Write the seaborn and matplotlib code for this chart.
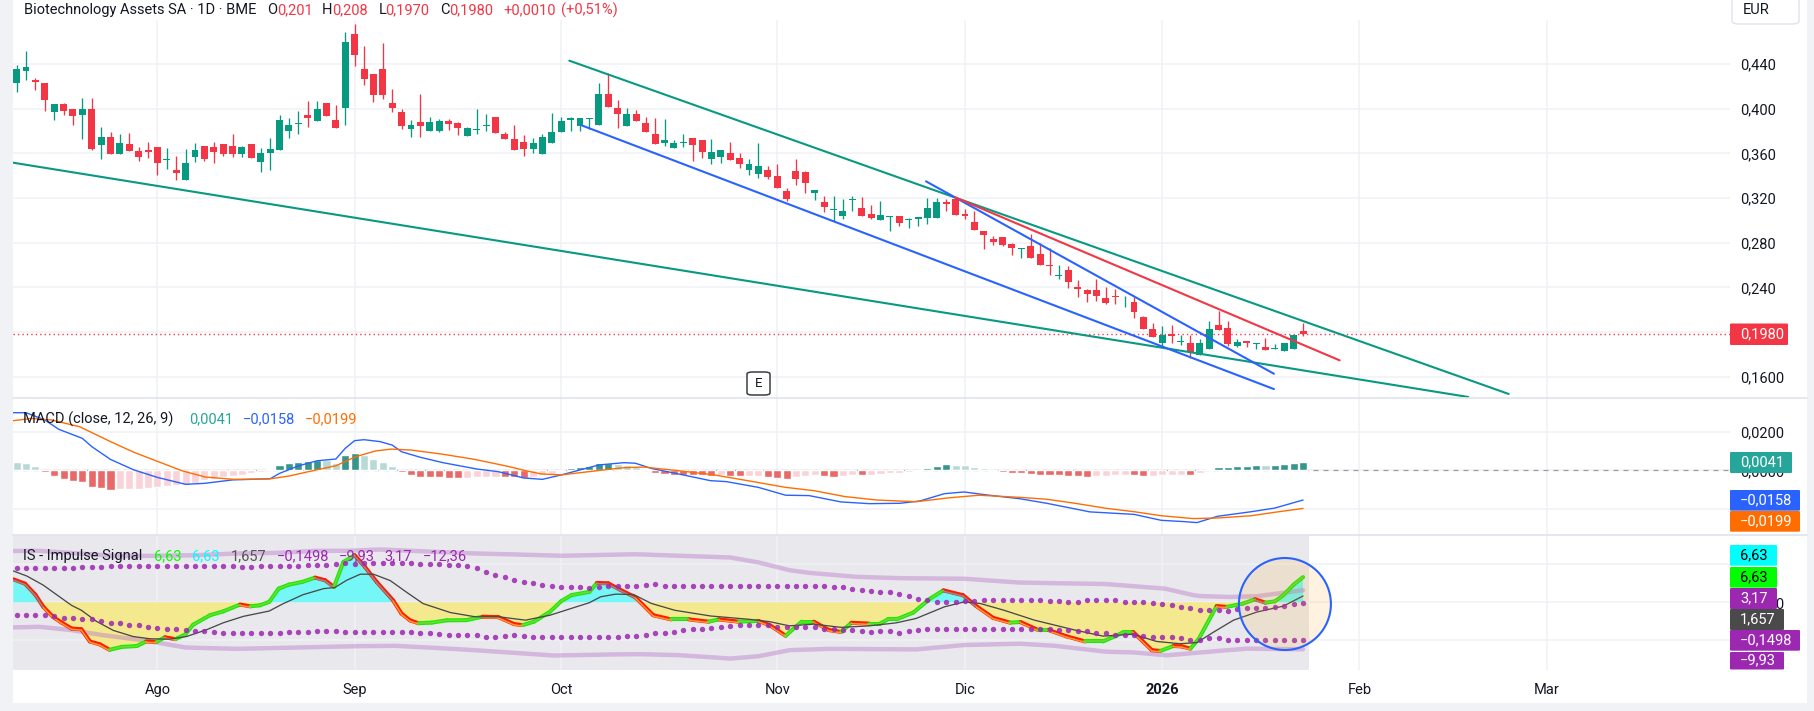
import numpy as np
import matplotlib
matplotlib.use("Agg")
import matplotlib.pyplot as plt
import seaborn as sns
from matplotlib.lines import Line2D
from matplotlib.patches import FancyBboxPatch, Ellipse, Rectangle

# ---- price candles
opens = [.4227,.4335,.426,.4233,.3975,.4044,.3999,.3948,.3999,.3678,
         .3747,.3597,.3684,.3621,.363,.3657,.3537,.345,.3363,.357,
         .3666,.3657,.3684,.3666,.3597,.3684,.3525,.3606,.3633,.3804,
         .3864,.3945,.3894,.4053,.39,.4002,.4665,.4359,.4314,.4359,
         .4053,.3972,.3822,.3882,.3804,.3804,.3891,.3873,.3759,.3813,
         .3849,.3927,.3774,.3729,.3702,.3642,.3597,.3696,.3795,.3903,
         .3849,.3912,.3858,.4134,.4008,.3849,.3954,.3873,.3774,.3696,
         .3651,.3696,.3738,.372,.3552,.357,.3603,.3558,.3453,.3417,
         .345,.3396,.3261,.3441,.3432,.3246,.3162,.3093,.3039,.3186,
         .3108,.3054,.3003,.303,.3036,.3003,.3012,.3021,.3021,.3162,
         .3189,.3054,.2982,.291,.2838,.2856,.2785,.2743,.2767,.2704,
         .2605,.2506,.256,.2407,.238,.238,.2308,.2326,.2257,.2272,
         .2137,.2029,.1906,.1984,.1915,.1903,.1798,.1852,.2065,.2038,
         .1879,.1921,.1897,.1867,.1852,.1834,.1852,.201]
closes = [.4359,.4377,.4236,.4074,.4044,.3984,.3939,.3999,.3642,.3747,
          .3597,.3693,.3624,.357,.3615,.3516,.3549,.3426,.3513,.363,
          .3552,.3615,.3597,.3597,.3657,.3561,.3603,.3639,.39,.3855,
          .3873,.3921,.3999,.3939,.3831,.4593,.4479,.4263,.4119,.4119,
          .4002,.3849,.3855,.3849,.3882,.3891,.3867,.3831,.3828,.3819,
          .3855,.3786,.3732,.3633,.3642,.3693,.3747,.3792,.3891,.3915,
          .3918,.3918,.4134,.4011,.3957,.3954,.3894,.3795,.3687,.372,
          .3693,.3702,.3678,.3615,.3612,.363,.3543,.3507,.3504,.3486,
          .339,.3291,.3192,.3372,.3336,.327,.312,.3099,.3081,.3192,
          .3039,.3021,.3045,.3036,.2976,.3009,.3027,.3108,.3162,.3147,
          .3048,.3039,.2913,.2868,.2805,.2778,.2752,.2755,.2662,.2599,
          .259,.2515,.2446,.2383,.2338,.232,.2257,.2311,.2263,.2185,
          .2032,.196,.1975,.1969,.1921,.1822,.1903,.2029,.2023,.1897,
          .1912,.1906,.1903,.1843,.1858,.1903,.1975,.198]
highs = [.4395,.4521,.4278,.4233,.4044,.4053,.3999,.4098,.4098,.3837,
         .3792,.3774,.3783,.3657,.3702,.3657,.3648,.3576,.3639,.3693,
         .3666,.3702,.3684,.3774,.3666,.3684,.3648,.3738,.3945,.3918,
         .3981,.4071,.4071,.4053,.4035,.4683,.4755,.4557,.4314,.4584,
         .4179,.3999,.39,.4134,.3927,.3909,.3909,.3882,.3837,.3999,
         .3954,.3927,.3792,.3855,.3765,.3738,.3774,.3963,.3927,.3927,
         .3918,.3918,.4233,.4323,.408,.4008,.399,.3927,.3918,.3909,
         .372,.3774,.3738,.372,.3729,.363,.3702,.3603,.3549,.3693,
         .3486,.3504,.3288,.3549,.3441,.327,.3216,.3216,.3189,.3216,
         .3207,.3135,.3171,.3036,.3036,.3018,.3027,.3198,.3198,.3189,
         .3207,.3099,.3081,.291,.2865,.2856,.2794,.2755,.2875,.2794,
         .2749,.2605,.2596,.247,.2389,.2479,.2407,.2389,.2326,.2317,
         .2146,.2083,.2056,.2065,.1975,.1975,.1939,.2101,.2191,.2101,
         .1939,.1921,.1903,.1948,.1894,.1903,.1975,.208]
lows = [.4146,.4254,.4164,.3984,.3903,.3948,.3858,.3732,.3633,.3552,
        .3597,.3597,.3624,.3534,.3561,.3408,.3462,.3363,.3363,.3525,
        .3534,.3516,.3579,.357,.357,.3561,.3435,.3453,.3633,.3741,
        .3777,.384,.3894,.3939,.3831,.3858,.438,.4209,.4056,.4083,
        .3975,.3822,.375,.375,.3804,.3795,.3813,.3768,.3759,.3777,
        .3804,.3786,.3732,.3633,.3579,.3606,.3597,.3696,.3795,.3804,
        .3804,.3822,.3858,.4011,.3831,.3849,.3894,.3795,.3687,.3669,
        .3651,.366,.3534,.3561,.3507,.3516,.3543,.3471,.3408,.3381,
        .3372,.3291,.3174,.3318,.3246,.3183,.3075,.2997,.3012,.3084,
        .3039,.3012,.3003,.2904,.2949,.2931,.2949,.2967,.3021,.3084,
        .3048,.3012,.2913,.2742,.2778,.2769,.2689,.2662,.2662,.2599,
        .2509,.2479,.2392,.2311,.2266,.2275,.2248,.2248,.2221,.2131,
        .2032,.196,.187,.1906,.1888,.1771,.1798,.1852,.2023,.1879,
        .187,.187,.1852,.1843,.1852,.1834,.1852,.197]
last_close = 0.198

# ---- trend lines drawn on the chart: (bar, price) at both ends
green_low_bars, green_low_prices = [-0.38, 154.6], [.3517, .1420]
green_up_bars, green_up_prices = [58.86, 158.9], [.4430, .1447]
blue_long_bars, blue_long_prices = [60.18, 133.9], [.3851, .1491]
blue_short_bars, blue_short_prices = [96.85, 133.9], [.3350, .1628]
red_bars, red_prices = [99.94, 140.9], [.3207, .1748]

# ---- MACD, in units of 0.0001
macd_hist = [44,40,23,-9,-30,-45,-56,-61,-89,-92,
             -103,-99,-99,-96,-90,-85,-82,-77,-75,-68,
             -50,-44,-37,-30,-23,-12,-7,5,28,37,
             44,47,54,52,40,80,90,80,61,44,
             23,-7,-24,-35,-35,-35,-40,-40,-38,-37,
             -37,-33,-37,-37,-42,-35,-26,-19,-5,12,
             17,24,38,37,31,26,19,9,-12,-19,
             -23,-26,-26,-26,-28,-26,-30,-30,-28,-28,
             -37,-40,-45,-35,-30,-26,-30,-37,-31,-26,
             -24,-23,-17,-14,-12,-7,-3,12,23,33,
             28,26,17,12,-3,-7,-14,-14,-19,-23,
             -23,-23,-28,-28,-33,-28,-28,-24,-23,-26,
             -28,-28,-24,-24,-23,-26,-12,5,17,16,
             23,23,28,28,26,33,38,41]
hist_kind = ("ggg" + "RRRRRRRR" + "rrrrrrrrrrrrrrrr" + "GGGGGG" + "gg" + "GG" + "gggg"
             + "RRRRRRR" + "rrrr" + "RRR" + "rrrr" + "GGGGG" + "gggg"
             + "RRRRRRR" + "r" + "RR" + "rr" + "RRR" + "rrr" + "RR" + "rr" + "R" + "rrrrrr"
             + "GGG" + "gggg" + "RRRRRRRRRRR" + "rrrr" + "RR" + "rrrr" + "R" + "r"
             + "GGGGGG" + "g" + "GGGG")
macd_bars = [-0.4,1,3,4.5,7,8,10,12.5,15,18,20,23,27,28,30,32,34,35,36,37,38.7,40,41,43,45.4,49,51.3,54,56,58,62,
             64.7,65.9,67.6,70.5,73.9,75.6,79,81.9,84.4,87.8,90.8,94.1,96.2,98.8,100.9,103.4,106.8,109.7,114.3,119,
             121.9,124.4,125.7,127.9,131.5,134,137]
macd_vals = [301,301,263,214,167,124,57,2,-37,-73,-68,-50,-44,-16,23,50,59,115,155,160,150,132,97,68,40,7,-7,-40,-47,-24,28,
             40,37,10,-19,-54,-59,-89,-130,-132,-165,-174,-172,-160,-122,-113,-129,-148,-172,-217,-230,
             -261,-268,-273,-240,-216,-197,-155]
signal_bars = [-0.4,1.6,3.7,6.7,10,12.5,15.1,17.6,20.1,23.1,26.9,29,31.9,34,36.1,38.2,39.9,42,45.4,48.8,52.5,54.2,55.9,58,61.8,
               64.7,66.8,70.5,74.3,78.1,81.9,84.9,88.2,91.6,95.8,99.2,102.5,106.8,109.7,112.7,116,119,121.9,125.3,
               127.9,131.5,134,137]
signal_vals = [259,271,263,228,150,94,45,-2,-35,-47,-45,-30,2,24,71,101,111,106,84,57,19,-2,-19,-24,-2,
               14,17,-2,-24,-56,-89,-106,-137,-155,-164,-144,-130,-141,-151,-172,-198,-216,-237,-252,
               -249,-237,-219,-199]

# ---- IS - Impulse Signal
impulse_bars = [-0.35,0.9,2,2.85,3.9,4.8,5.85,6.9,7.8,8.9,9.9,11.2,12.8,13.8,14.9,15.8,16.9,17.95,18.8,20.6,22,23.8,24.9,25.9,26.9,
                27.9,29,30.4,31.8,32.85,33.8,34.8,36,37.1,38.35,40.1,41,41.9,42.8,44.2,45.8,47.9,49.6,51.3,53,53.9,55.1,56.8,58,59.1,61,61.8,
                63,64.2,65.9,67.8,69.7,71.6,73.7,74.8,76.9,79,80.2,81.9,83.6,84.9,86.5,87.8,88.9,90.8,
                91.95,92.8,93.7,95.5,97.3,98.7,100.8,102.2,104,105.8,106.9,108.8,109.9,111.8,113.8,115.7,117.2,117.9,118.9,120.9,121.8,
                123.2,124.1,125,125.9,127.8,128.9,130.6,131.9,133,134,134.9,136,137]
impulse_vals = [6.05,4.9,2.0,-1.2,-3.9,-5.35,-6.9,-7.1,-10.3,-11.1,-12.5,-11.75,-11.5,-10.3,-10.4,-9.2,-9.7,-8.5,-5.9,-3.4,-2.4,-0.6,-1.05,-0.8,0.1,
                3.6,4.65,5.35,6.5,5.8,4.05,10.6,12.4,9.3,5.35,0.5,-3,-4.75,-5.5,-5.35,-4.75,-4.7,-3.8,-3.9,-5.75,-6,-5.1,-2.5,0.3,1.9,2.75,5.1,
                5,3.4,1.3,-3.4,-4.5,-4.5,-5.1,-4.5,-5.1,-4.9,-6,-8.8,-5.1,-5.1,-7.3,-7.8,-5.4,-5.6,
                -5.6,-4.5,-4.5,-2.7,1,3.15,1.85,-1,-4.1,-5.35,-5.2,-7.3,-7.3,-8.95,-10.3,-10.3,-8.7,-7.8,-7.8,-12.6,-12.8,
                -11.5,-11.6,-12.2,-9.6,-1,-1.2,-0.35,0.8,-0.1,0.25,1.85,4.65,6.63]
is_signal_bars = [-0.35,1.1,2.85,4.6,5.85,6.9,8.5,10.3,12.4,14.2,16.3,18.1,20.25,22,24.15,26.9,28.4,30.5,32.7,33.9,35.15,36.6,38,39.8,41.5,43.3,46.2,
                  48.8,51.3,54.2,56.8,61,62.2,63.8,65.7,67.6,70.1,73.9,78.1,80.2,82.3,84.9,87.8,90.8,93.7,95.8,98.8,100.9,102.6,105.1,108.4,112.7,
                  115.7,118.9,121.4,123.9,125.7,127.5,129.6,132.1,134.9,137]
is_signal_vals = [8.25,6.9,4.5,1.4,-0.8,-2.1,-5,-7.4,-9,-9.6,-9.7,-9,-7.2,-5.4,-3.7,-2.3,-0.35,2,3.6,3.9,5.8,7.4,7.4,5.7,2.7,-0.35,-2.7,
                  -3.8,-3.8,-4.7,-3.4,-0.1,1.45,2.15,2.05,-0.3,-2.1,-3.6,-4.5,-5.1,-6.2,-5.75,-6.6,-6.2,-5.4,-4.25,-1.2,0.1,-0.3,-2.05,-4.7,-7.3,
                  -8.9,-8.4,-10.3,-10.9,-10.6,-7.8,-4.7,-2.55,-1,1.657]
upper_dots = [9.1,9.1,9.1,9.1,9.1,9.1,9.1,9.2,9.3,9.4,9.5,
              9.55,9.55,9.55,9.55,9.55,9.55,9.55,9.55,9.55,9.55,9.55,9.55,
              9.5,9.4,9.4,9.5,9.5,9.55,9.55,9.65,9.75,9.75,9.9,10,10.25,10.1,10.25,10.35,10.35,10.35,
              10.3,10.3,10.2,10.1,10,9.9,9.8,9.6,8.9,8,7.3,6.7,6,5.4,4.95,4.6,4.35,4.1,3.9,4,3.8,3.9,
              4.25,4.4,4.4,4.4,4.5,4.7,4.4,4.4,4.4,4.4,4.4,4.4,4.4,4.2,4.2,4.2,4.2,4.2,4.2,4.2,4.2,4.2,4.2,4.2,
              3.9,3.9,3.6,3.3,3,2.75,2.6,2.2,1.6,1,.5,.2,.05,.1,.3,.4,.5,.5,.5,.5,.5,.5,.5,.3,.3,.2,.2,.5,.5,.5,.5,
              .2,.2,.05,-.2,-.4,-.8,-1.2,-1.6,-1.9,-2.15,-2.1,-2.2,-1.85,-1.6,-1.5,-1.4,-1.3,-1.05,-.5,-.15]
lower_dots = [-3.45,-3.45,-3.45,-3.45,-3.65,-4,-4.15,-4.35,-4.5,-4.95,-5.4,-5.55,-5.85,-6.1,-6.45,-6.7,-7,-7.15,-7.35,-7.5,-7.6,-7.75,
              -7.95,-7.95,-7.95,-7.95,-7.95,-7.95,-7.95,-7.85,-7.85,-7.85,-7.6,-7.6,-7.6,
              -7.75,-7.75,-7.75,-7.75,-7.75,-7.75,-7.75,-7.75,-7.95,-8.2,-8.4,-8.5,-8.5,-8.65,-8.65,-9,-9.1,-8.75,-8.65,-8.9,
              -9,-9,-9,-9,-9,-9,-9,-9,
              -9.1,-9.1,-8.75,-8.75,-8.5,-8.2,-7.95,-7.85,-7.4,-7.15,-6.9,-6.7,-6.55,-6.25,-6.1,-6.1,-6.1,-6.1,-6.45,-6.45,-6.45,-6.45,-6.6,-7,-7.15,-7.25,
              -7.4,-7.5,-7.75,-7.65,-7.65,-7.95,-7.65,-7.4,-7.15,-7.15,-6.9,-7.15,-7.15,-6.9,-6.9,-6.9,-6.9,-6.9,-6.9,-6.9,-7.15,-7.15,-7.4,-7.4,-7.65,-7.65,
              -7.95,-8.2,-8.5,-8.5,-8.5,-8.75,-9,-9.25,-9.25,-9.5,-9.8,-9.8,-9.5,-9.5,-9.8,-9.8,-9.8,-9.8,-9.8,-9.8,-9.8,-9.8,-9.93]
upper_band_bars = [-0.4,2.4,6.65,10.9,15.1,19.3,23.5,27.7,31.9,35.3,38.7,42,48.8,53,58,65.9,70.5,76,79,82.3,84.4,89.5,94.1,100.9,106.8,116,122.3,125.3,126,129.2,132.1,137]
upper_band_vals = [13.5,13.55,12.85,12.15,12.25,12.4,12.85,13,13.55,13.55,13.9,13.55,12.85,12.6,12.25,12.65,12.25,11.8,10.5,8.45,7.75,6.7,6.35,6.2,5.2,4.8,3.6,1.9,1.65,1.4,1.6,3.17]
lower_band_bars = [-0.4,2.4,5.8,9.2,13.8,18,23.5,29.8,36.1,40.3,44.6,48.8,53,57.2,64.2,66.3,70.5,76,79,82.3,86.5,95.8,100.9,106.8,110.6,116,119,122.5,127.5,131,137]
lower_band_vals = [-6.6,-6.45,-7.3,-8.65,-10.1,-11.9,-12.25,-11.9,-11.55,-11.45,-12,-12.6,-13.3,-14,-13.7,-13.65,-13.9,-14.8,-14.2,-12.6,-12.25,-12.4,-11.25,-10.9,-11.45,-13,-13.2,-13.95,-12.9,-12.2,-12.36]

# ---- axis labels (labels that sit under a value tag stay empty)
month_bars = [15, 36, 58, 81, 101, 122, 143, 163]
month_labels = ["Ago", "Sep", "Oct", "Nov", "Dic", "2026", "Feb", "Mar"]
price_ticks = [.44, .40, .36, .32, .28, .24, .20, .16]
price_labels = ["0,440", "0,400", "0,360", "0,320", "0,280", "0,240", "", "0,1600"]
macd_ticks = [.02, 0, -.02]
macd_labels = ["0,0200", "0,0000", ""]
is_ticks = [10, 0, -10]
is_labels = ["", "0,0000", ""]

# layout, in pixels of the saved picture
W, H = 1814, 711
X_LEFT, X_RIGHT = 13, 1730
BAR0, BAR_W = 16.6, 9.39
FONT = "Roboto"
FS = 10.5
DARK = "#131722"
GREEN = "#089981"
RED = "#F23645"
BLUE = "#2962FF"
ORANGE = "#FF6D00"
PURPLE = "#9C27B0"
GRID = "#f0f1f5"
XLIM = ((X_LEFT - BAR0) / BAR_W, (X_RIGHT - BAR0) / BAR_W)

sns.set_theme(style="white")
plt.rcParams["font.family"] = [FONT, "DejaVu Sans"]
plt.rcParams["axes.unicode_minus"] = False

fig = plt.figure(figsize=(W / 100, H / 100), dpi=100, facecolor="#f1f2f5")
fig.add_artist(Rectangle((X_LEFT / W, 1 - 703 / H), (1807 - X_LEFT) / W, 703 / H,
                         transform=fig.transFigure, facecolor="white", edgecolor="none", zorder=-5))


def add_pane(y0, y1, ylim, ticks, labels):
    ax = fig.add_axes([X_LEFT / W, 1 - y1 / H, (X_RIGHT - X_LEFT) / W, (y1 - y0) / H])
    ax.patch.set_alpha(0)
    ax.set_xlim(*XLIM)
    ax.set_ylim(*ylim)
    for s in ax.spines.values():
        s.set_visible(False)
    ax.set_xticks(month_bars)
    ax.set_xticklabels([])
    ax.yaxis.tick_right()
    ax.set_yticks(ticks)
    ax.set_yticklabels(labels, fontsize=FS, color=DARK)
    ax.tick_params(length=0, pad=7.4)
    ax.grid(True, color=GRID, lw=1.1)
    ax.set_axisbelow(True)
    return ax


def finish_pane(ax, ylim):
    ax.set_xlim(*XLIM)
    ax.set_ylim(*ylim)
    ax.set_xlabel("")
    ax.set_ylabel("")


def pixel_text(x, y, s, color=DARK, size=FS, ha="left", weight="normal", z=8):
    fig.text(x / W, 1 - y / H, s, color=color, fontsize=size, ha=ha, va="center", fontweight=weight, zorder=z)


def value_tag(y0, y1, x1, s, face, color="white"):
    fig.add_artist(FancyBboxPatch((X_RIGHT / W, 1 - y1 / H), (x1 - X_RIGHT) / W, (y1 - y0) / H,
                                  boxstyle="round,pad=0,rounding_size=0.001", transform=fig.transFigure,
                                  facecolor=face, edgecolor="none", zorder=6))
    pixel_text(X_RIGHT + 10, (y0 + y1) / 2, s, color=color)


# price pane
price_lim = (.1411, .4794)
ax1 = add_pane(20, 398, price_lim, price_ticks, price_labels)
bars = np.arange(len(opens))
up = np.array(closes) >= np.array(opens)
candle_colors = [GREEN if u else RED for u in up]
ax1.vlines(bars, lows, highs, colors=candle_colors, lw=0.95, zorder=3)
ax1.bar(bars, np.array(closes) - np.array(opens), bottom=opens, width=0.74, color=candle_colors, lw=0, zorder=3)
for bx, py, c in [(green_low_bars, green_low_prices, GREEN), (green_up_bars, green_up_prices, GREEN),
                  (blue_long_bars, blue_long_prices, BLUE), (blue_short_bars, blue_short_prices, BLUE),
                  (red_bars, red_prices, RED)]:
    sns.lineplot(x=bx, y=py, color=c, lw=1.5, ax=ax1, estimator=None, zorder=4)
ax1.axhline(last_close, color=RED, lw=1, ls=(0, (1, 2.2)), zorder=2)
finish_pane(ax1, price_lim)

# MACD pane
macd_lim = (-.03377, .03777)
ax2 = add_pane(398, 535, macd_lim, macd_ticks, macd_labels)
sns.barplot(x=bars, y=np.array(macd_hist) * 1e-4, hue=list(hist_kind),
            palette={"G": "#26A69A", "g": "#B2DFDB", "R": "#FF5252", "r": "#FFCDD2"},
            native_scale=True, dodge=False, legend=False, ax=ax2, zorder=2)
# seaborn narrows the bars when hue is on, so set the width here
for p in ax2.patches:
    p.set_x(p.get_x() + p.get_width() / 2 - 0.43)
    p.set_width(0.86)
ax2.axhline(0, color="#9a9ea6", lw=0.9, ls=(0, (4, 4)), zorder=1)
sns.lineplot(x=macd_bars, y=np.array(macd_vals) * 1e-4, color=BLUE, lw=1, ax=ax2, estimator=None, zorder=4)
sns.lineplot(x=signal_bars, y=np.array(signal_vals) * 1e-4, color=ORANGE, lw=1, ax=ax2, estimator=None, zorder=4)
ax2.set_xticks(month_bars)
ax2.set_xticklabels([])
finish_pane(ax2, macd_lim)

# IS pane, 0 at pixel 602.3 and 3.8 pixels for each unit
is_lim = ((602.3 - 669.5) / 3.8, (602.3 - 535) / 3.8)
ax3 = add_pane(535, 669.5, is_lim, is_ticks, is_labels)
ax3.axvspan(XLIM[0], 137.6, color="#e9e9ed", lw=0, zorder=0)
ib = np.array(impulse_bars)
iv = np.array(impulse_vals)
ax3.fill_between(ib, iv, 0, where=iv >= 0, interpolate=True, color="#75f7f8", lw=0, zorder=1)
ax3.fill_between(ib, iv, 0, where=iv <= 0, interpolate=True, color="#f5e98f", lw=0, zorder=1)
sns.lineplot(x=upper_band_bars, y=upper_band_vals, color="#b97cc8", alpha=0.45, lw=3.2, ax=ax3, estimator=None, zorder=2)
sns.lineplot(x=lower_band_bars, y=lower_band_vals, color="#b97cc8", alpha=0.45, lw=3.2, ax=ax3, estimator=None, zorder=2)
for k in range(len(ib) - 1):
    seg_x = ib[k:k + 2]
    seg_y = iv[k:k + 2]
    falling = seg_y[1] < seg_y[0]
    main = "#ff1a00" if falling else "#12f000"
    if falling:
        inner = "#8e8f8c" if seg_y.mean() > 0 else "#ff9a2e"
    else:
        inner = "#7bd33f"
    ax3.plot(seg_x, seg_y, color=main, lw=2.9, solid_capstyle="round", zorder=3)
    ax3.plot(seg_x, seg_y - (0.22 if falling else 0), color=inner, lw=1.1, solid_capstyle="round", zorder=3.1)
sns.lineplot(x=is_signal_bars, y=is_signal_vals, color="#4a4a4a", lw=0.95, ax=ax3, estimator=None, zorder=4)
sns.scatterplot(x=bars, y=upper_dots, color=PURPLE, alpha=0.85, s=15, linewidth=0, ax=ax3, zorder=5)
sns.scatterplot(x=bars, y=lower_dots, color=PURPLE, alpha=0.85, s=15, linewidth=0, ax=ax3, zorder=5)
ax3.set_xticks(month_bars)
ax3.set_xticklabels(month_labels, fontsize=FS, color=DARK)
ax3.tick_params(axis="x", length=0, pad=10)
ax3.get_xticklabels()[5].set_fontweight("bold")
finish_pane(ax3, is_lim)

# highlight circle, 46 px radius around the last bars
circle_w = 2 * 46 / BAR_W
circle_h = 2 * 46 / 3.8
ax3.add_patch(Ellipse((135.07, -0.45), circle_w, circle_h, facecolor="#ff9800", alpha=0.12, edgecolor="none", zorder=6, clip_on=False))
ax3.add_patch(Ellipse((135.07, -0.45), circle_w, circle_h, facecolor="none", edgecolor=BLUE, lw=1.5, zorder=6.1, clip_on=False))

# separators
for yy in (398, 535):
    fig.add_artist(Line2D([X_LEFT / W, 1807 / W], [1 - yy / H] * 2, color="#e0e3eb", lw=1.2, zorder=2))

# header
pixel_text(23.7, 10, "Biotechnology Assets SA · 1D · BME")
for x, s, c in [(267, "O", DARK), (277, "0,201", RED), (322, "H", DARK), (332, "0,208", RED), (379, "L", DARK),
                (385.5, "0,1970", RED), (440, "C", DARK), (449, "0,1980", RED), (503, "+0,0010", RED), (561, "(+0,51%)", RED)]:
    pixel_text(x, 10, s, color=c)

# indicator legends
pixel_text(23, 419, "MACD (close, 12, 26, 9)")
pixel_text(189, 419, "0,0041", color="#26A69A")
pixel_text(243, 419, "−0,0158", color=BLUE)
pixel_text(304.5, 419, "−0,0199", color=ORANGE)
pixel_text(23, 556, "IS - Impulse Signal")
for x, s, c in [(154, "6,63", "#00FF00"), (192, "6,63", "#00FFFF"), (231, "1,657", "#555555"),
                (277, "−0,1498", PURPLE), (339, "−9,93", PURPLE), (384, "3,17", PURPLE), (423, "−12,36", PURPLE)]:
    pixel_text(x, 556, s, color=c)

# value tags on the right scales
value_tag(323.5, 345, 1788, "0,1980", RED)
value_tag(452, 473, 1792, "0,0041", "#26A69A")
value_tag(490, 510.7, 1800, "−0,0158", BLUE)
value_tag(511, 531.7, 1800, "−0,0199", ORANGE)
value_tag(545, 565.7, 1777, "6,63", "#00FFFF", color="black")
value_tag(567, 587.7, 1777, "6,63", "#00FF00", color="black")
value_tag(588, 609, 1777, "3,17", PURPLE)
value_tag(609, 630, 1784, "1,657", "#4A4A4A")
value_tag(630, 650.7, 1800, "−0,1498", PURPLE)
value_tag(652, 669.5, 1784, "−9,93", PURPLE)

# EUR button and E badge
fig.add_artist(FancyBboxPatch((1732 / W, 1 - 24 / H), 67 / W, 26 / H, boxstyle="round,pad=0,rounding_size=0.004",
                              transform=fig.transFigure, facecolor="white", edgecolor="#e0e3eb", lw=1, zorder=6))
pixel_text(1756, 10, "EUR", ha="center")
fig.add_artist(FancyBboxPatch((747 / W, 1 - 395 / H), 23 / W, 23 / H, boxstyle="round,pad=0,rounding_size=0.003",
                              transform=fig.transFigure, facecolor="white", edgecolor="#3a3d45", lw=1.1, zorder=6))
pixel_text(758.5, 383.5, "E", ha="center", size=9.5)

fig.savefig("out.png", dpi=100)
